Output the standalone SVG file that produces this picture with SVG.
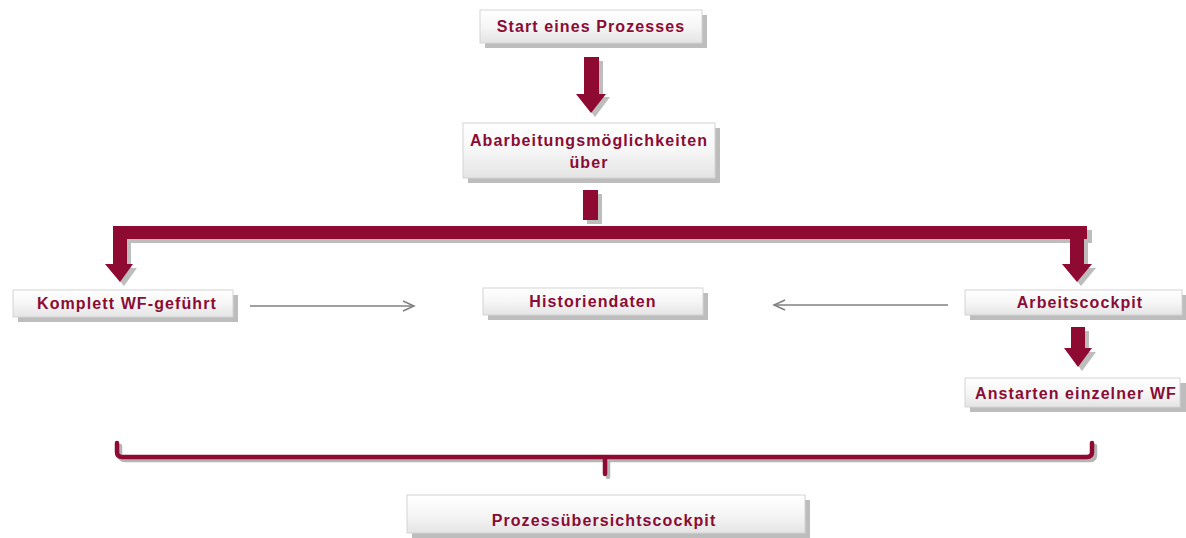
<svg xmlns="http://www.w3.org/2000/svg" width="1186" height="538" viewBox="0 0 1186 538">
<defs>
<linearGradient id="boxg" x1="0" y1="0" x2="0" y2="1">
<stop offset="0" stop-color="#ffffff"/>
<stop offset="0.5" stop-color="#f6f6f6"/>
<stop offset="1" stop-color="#e4e4e4"/>
</linearGradient>
<marker id="open" markerWidth="14" markerHeight="12" refX="12" refY="6" orient="auto" markerUnits="userSpaceOnUse">
<path d="M1,1 L12,6 L1,11" fill="none" stroke="#808080" stroke-width="1.5"/>
</marker>
</defs>
<style>
.box{fill:url(#boxg);stroke:#d4d4d4;stroke-width:1}
.sh{fill:#bdbdbd}
.t{font-family:"Liberation Sans",Arial,sans-serif;font-weight:bold;font-size:16px;fill:#8a0c35;letter-spacing:1.1px;text-anchor:middle}
.red{fill:#8e0a33}
.redl{fill:none;stroke:#8e0a33;stroke-width:4.5;stroke-linecap:round;stroke-linejoin:round}
.shl{fill:none;stroke:#b5b5b5;stroke-width:4.5;stroke-linecap:round;stroke-linejoin:round}
.conn{stroke:#808080;stroke-width:1.5;fill:none}
</style>
<rect width="1186" height="538" fill="#ffffff"/>
<g id="connectors">
<path class="sh" d="M588,61 L603,61 L603,97 L610,97 L595,117 L580,97 L588,97 Z"/>
<path class="red" d="M584,57 L599,57 L599,94 L606,94 L591,113 L576,94 L584,94 Z"/>
<rect class="sh" x="587" y="194" width="15" height="30"/>
<rect class="red" x="583" y="190" width="15" height="30"/>
<path class="sh" d="M117,230 L1092,230 L1092,243 L117,243 Z"/>
<path class="red" d="M113,226 L1087,226 L1087,239 L113,239 Z"/>
<path class="sh" d="M117,243 L131,243 L131,268 L137,268 L124,286 L109,268 L117,268 Z"/>
<path class="red" d="M113,239 L127,239 L127,264 L133,264 L120,282 L105,264 L113,264 Z"/>
<path class="sh" d="M1074,243 L1088,243 L1088,268 L1096,268 L1081,286 L1066,268 L1074,268 Z"/>
<path class="red" d="M1070,239 L1084,239 L1084,264 L1092,264 L1077,282 L1062,264 L1070,264 Z"/>
<path class="sh" d="M1075,331 L1089,331 L1089,352 L1096,352 L1082,371 L1068,352 L1075,352 Z"/>
<path class="red" d="M1071,327 L1085,327 L1085,348 L1092,348 L1078,367 L1064,348 L1071,348 Z"/>
<line class="conn" x1="250" y1="306" x2="414" y2="306" marker-end="url(#open)"/>
<line class="conn" x1="948" y1="305" x2="774" y2="305" marker-end="url(#open)"/>
<path class="shl" d="M120,446 L120,455 Q120,460 125,460 L1090,460 Q1095,460 1095,455 L1095,446 M608,460 L608,477"/>
<path class="redl" d="M117,443 L117,452 Q117,457 122,457 L1087,457 Q1092,457 1092,452 L1092,443 M605,457 L605,474"/>
</g>
<g id="n-start">
<rect class="sh" x="485" y="15" width="222" height="33"/>
<rect class="box" x="480" y="10" width="222" height="33"/>
<text class="t" x="591" y="32">Start eines Prozesses</text>
</g>
<g id="n-abarbeitung">
<rect class="sh" x="468" y="128" width="252" height="55"/>
<rect class="box" x="463" y="123" width="252" height="55"/>
<text class="t" x="589" y="146">Abarbeitungsmöglichkeiten</text>
<text class="t" x="589" y="168">über</text>
</g>
<g id="n-komplett">
<rect class="sh" x="18" y="295" width="220" height="27"/>
<rect class="box" x="13" y="290" width="220" height="27"/>
<text class="t" x="127" y="309">Komplett WF-geführt</text>
</g>
<g id="n-historiendaten">
<rect class="sh" x="488" y="293" width="220" height="27"/>
<rect class="box" x="483" y="288" width="220" height="27"/>
<text class="t" x="593" y="307">Historiendaten</text>
</g>
<g id="n-arbeitscockpit">
<rect class="sh" x="970" y="295" width="218" height="25"/>
<rect class="box" x="965" y="290" width="217" height="25"/>
<text class="t" x="1080" y="308">Arbeitscockpit</text>
</g>
<g id="n-anstarten">
<rect class="sh" x="970" y="383" width="216" height="29"/>
<rect class="box" x="965" y="378" width="215" height="29"/>
<text class="t" x="1076" y="399">Anstarten einzelner WF</text>
</g>
<g id="n-prozess">
<rect class="sh" x="412" y="500" width="398" height="38"/>
<rect class="box" x="407" y="495" width="398" height="38"/>
<text class="t" x="604" y="526">Prozessübersichtscockpit</text>
</g>
</svg>
